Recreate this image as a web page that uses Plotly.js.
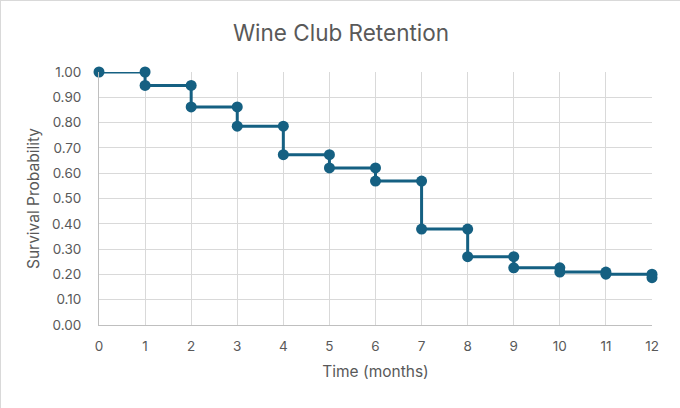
<!DOCTYPE html>
<html>
<head>
<meta charset="utf-8">
<script src="https://cdn.plot.ly/plotly-3.0.1.min.js"></script>
<style>
    html, body { margin: 0; padding: 0; background: #ffffff; }
    #chart { width: 680px; height: 408px; box-sizing: border-box; border: 1px solid #d9d9d9; }
</style>
</head>
<body>
<div id="chart"></div>
<script>
// Step points: each event time appears twice (before and after the drop)
const months = [0, 1, 1, 2, 2, 3, 3, 4, 4, 5, 5, 6, 6, 7, 7, 8, 8, 9, 9, 10, 10, 11, 11, 12, 12];
const survival = [1.00, 1.00, 0.947, 0.947, 0.862, 0.862, 0.786, 0.786, 0.673, 0.673, 0.621,
    0.621, 0.569, 0.569, 0.379, 0.379, 0.270, 0.270, 0.226, 0.226, 0.209, 0.209, 0.201, 0.201, 0.187];

const monthTicks = [0, 1, 2, 3, 4, 5, 6, 7, 8, 9, 10, 11, 12];
const probTicks = [0, 0.1, 0.2, 0.3, 0.4, 0.5, 0.6, 0.7, 0.8, 0.9, 1.0];

const lineColor = '#156082';
const textColor = '#595959';
const fontFamily = 'Inter, "Open Sans", sans-serif';

const traces = [{
    x: months,
    y: survival,
    type: 'scatter',
    mode: 'lines+markers',
    line: { color: lineColor, width: 3 },
    marker: { color: lineColor, size: 11 },
    cliponaxis: false,
    hoverinfo: 'x+y'
}];

const layout = {
    width: 680,
    height: 408,
    margin: { l: 98, r: 29, t: 71, b: 84 },
    paper_bgcolor: '#FFFFFF',
    plot_bgcolor: '#FFFFFF',
    showlegend: false,
    font: { family: fontFamily, color: textColor, size: 13 },
    title: {
        text: 'Wine Club Retention',
        font: { family: fontFamily, size: 22.5, color: textColor },
        x: 0.5,
        xanchor: 'center',
        y: 0.922,
        yanchor: 'middle'
    },
    xaxis: {
        range: [0, 12],
        tickvals: monthTicks,
        ticktext: monthTicks.map(String),
        showgrid: true,
        gridcolor: '#d9d9d9',
        zeroline: false,
        showline: true,
        linecolor: '#bfbfbf',
        ticks: 'outside',
        ticklen: 9,
        tickcolor: 'rgba(0,0,0,0)',
        tickfont: { size: 13.5, color: textColor },
        title: { text: 'Time (months)', font: { size: 15.5, color: textColor }, standoff: 12 },
        fixedrange: true
    },
    yaxis: {
        range: [0, 1.0],
        tickvals: probTicks,
        tickformat: '.2f',
        showgrid: true,
        gridcolor: '#d9d9d9',
        zeroline: false,
        showline: true,
        linecolor: '#bfbfbf',
        ticks: 'outside',
        ticklen: 14,
        tickcolor: 'rgba(0,0,0,0)',
        tickfont: { size: 13.5, color: textColor },
        title: { text: 'Survival Probability', font: { size: 15.5, color: textColor }, standoff: 8 },
        fixedrange: true
    }
};

Plotly.newPlot('chart', traces, layout, { displayModeBar: false, staticPlot: true });
</script>
</body>
</html>
